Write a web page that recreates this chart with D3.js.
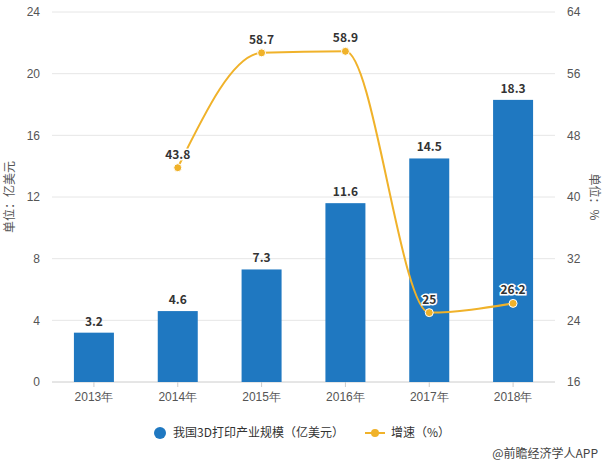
<!DOCTYPE html>
<html><head><meta charset="utf-8">
<script src="https://cdn.jsdelivr.net/npm/d3@7"></script>
<style>body{margin:0;background:#fff;font-family:"Noto Sans CJK SC","Noto Sans",sans-serif}</style>
</head><body><svg id="c" width="605" height="465"></svg>
<script>
const years = ['2013年','2014年','2015年','2016年','2017年','2018年'];
const scale = [3.2, 4.6, 7.3, 11.6, 14.5, 18.3];
const growth = [null, 43.8, 58.7, 58.9, 25, 26.2];
const leftTicks = [0,4,8,12,16,20,24];
const rightTicks = [16,24,32,40,48,56,64];

const svg = d3.select('#c');
const m = {top:12, left:52, right:50, bottom:83};
const W = 605, H = 465;
const x = d3.scaleBand().domain(years).range([m.left, W - m.right]).paddingInner(0.52).paddingOuter(0.26);
const yL = d3.scaleLinear().domain([0,24]).range([H - m.bottom, m.top]);
const yR = d3.scaleLinear().domain([16,64]).range([H - m.bottom, m.top]);

svg.append('g').selectAll('line').data(leftTicks).join('line')
  .attr('x1', m.left).attr('x2', W - m.right)
  .attr('y1', d => yL(d)).attr('y2', d => yL(d))
  .attr('stroke', d => d === 0 ? '#ccc' : '#e6e6e6');

const axL = svg.append('g').attr('transform', `translate(${m.left},0)`)
  .call(d3.axisLeft(yL).tickValues(leftTicks).tickSize(0).tickPadding(12));
const axR = svg.append('g').attr('transform', `translate(${W - m.right},0)`)
  .call(d3.axisRight(yR).tickValues(rightTicks).tickSize(0).tickPadding(12));
const axB = svg.append('g').attr('transform', `translate(0,${H - m.bottom})`)
  .call(d3.axisBottom(x).tickSize(5).tickPadding(5));
[axL, axR, axB].forEach(a => {
  a.select('.domain').remove();
  a.selectAll('text').attr('fill', '#555').attr('font-size', 12);
});
axB.selectAll('line').attr('stroke', '#ccc');

svg.append('text').attr('transform', `translate(14,${(m.top + H - m.bottom)/2}) rotate(-90)`)
  .attr('text-anchor','middle').attr('fill','#555').attr('font-size',12).text('单位：亿美元');
svg.append('text').attr('transform', `translate(590,${(m.top + H - m.bottom)/2}) rotate(90)`)
  .attr('text-anchor','middle').attr('fill','#555').attr('font-size',12).text('单位：%');

const bw = 40;
svg.append('g').selectAll('rect').data(scale).join('rect')
  .attr('x', (d,i) => x(years[i]) + x.bandwidth()/2 - bw/2)
  .attr('width', bw)
  .attr('y', d => yL(d)).attr('height', d => yL(0) - yL(d))
  .attr('fill', '#1f78c1');
svg.append('g').selectAll('text').data(scale).join('text')
  .attr('x', (d,i) => x(years[i]) + x.bandwidth()/2)
  .attr('y', d => yL(d) - 7).attr('text-anchor','middle')
  .attr('font-size', 12).attr('font-weight','bold').attr('fill','#333').text(d => d);

const pts = growth.map((g,i) => ({g, i})).filter(d => d.g !== null);
const cx = d => x(years[d.i]) + x.bandwidth()/2;
svg.append('path').datum(pts)
  .attr('d', d3.line().x(cx).y(d => yR(d.g)).curve(d3.curveMonotoneX))
  .attr('fill','none').attr('stroke','#f0b22a').attr('stroke-width',2);
svg.append('g').selectAll('circle').data(pts).join('circle')
  .attr('cx', cx).attr('cy', d => yR(d.g)).attr('r', 4)
  .attr('fill','#f0b22a').attr('stroke','#fff').attr('stroke-width',1);
svg.append('g').selectAll('text').data(pts).join('text')
  .attr('x', cx).attr('y', d => yR(d.g) - 9).attr('text-anchor','middle')
  .attr('font-size',12).attr('font-weight','bold').attr('fill','#333')
  .attr('stroke','#fff').attr('stroke-width',3).attr('paint-order','stroke')
  .text(d => d.g);

const lg = svg.append('g').attr('transform','translate(0,433)');
lg.append('circle').attr('cx',160).attr('cy',0).attr('r',6).attr('fill','#1f78c1');
lg.append('text').attr('x',173).attr('y',4).attr('font-size',12).attr('fill','#333').text('我国3D打印产业规模（亿美元）');
lg.append('line').attr('x1',365).attr('x2',385).attr('y1',0).attr('y2',0).attr('stroke','#f0b22a').attr('stroke-width',2);
lg.append('circle').attr('cx',375).attr('cy',0).attr('r',4).attr('fill','#f0b22a');
lg.append('text').attr('x',391).attr('y',4).attr('font-size',12).attr('fill','#333').text('增速（%）');

svg.append('text').attr('x',598).attr('y',458).attr('text-anchor','end')
  .attr('font-size',12).attr('fill','#444').text('@前瞻经济学人APP');
</script></body></html>
